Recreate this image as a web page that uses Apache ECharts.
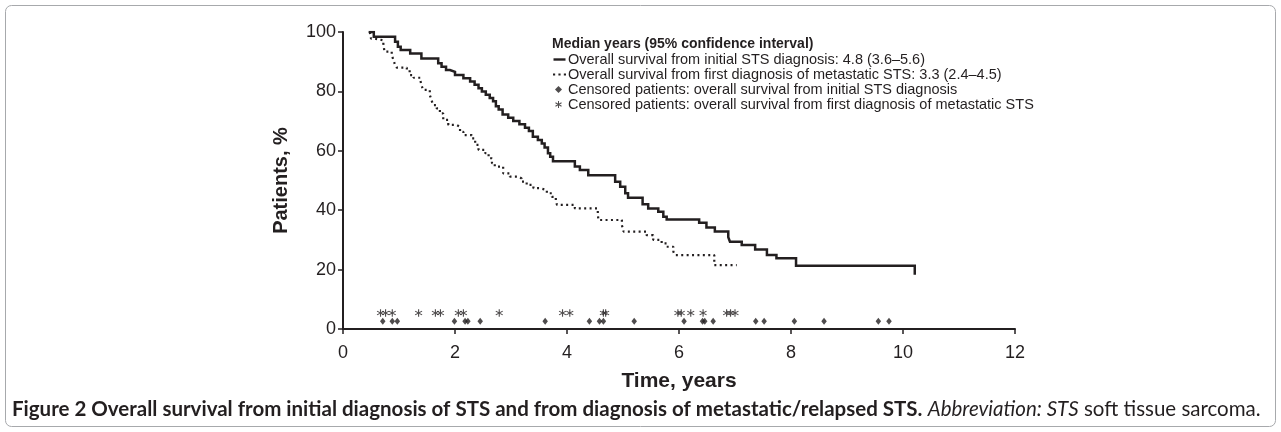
<!DOCTYPE html>
<html><head><meta charset="utf-8">
<script src="https://cdn.jsdelivr.net/npm/echarts@6/dist/echarts.min.js"></script>
<style>html,body{margin:0;padding:0;background:#fff}#c{width:1281px;height:432px}</style>
</head><body><div id="c"></div>
<script>
// ---- data ----
const xTickLabels = ['0', '2', '4', '6', '8', '10', '12'];
const yTickLabels = ['0', '20', '40', '60', '80', '100'];
const legendTitle = 'Median years (95% confidence interval)';
const seriesNames = [
  'Overall survival from initial STS diagnosis: 4.8 (3.6\u20135.6)',
  'Overall survival from first diagnosis of metastatic STS: 3.3 (2.4\u20134.5)',
  'Censored patients: overall survival from initial STS diagnosis',
  'Censored patients: overall survival from first diagnosis of metastatic STS'
];
// [time (years), survival (%)] -- survival drops to value at that time
const osInitial = [
  [0.48, 100], [0.55, 98.4], [0.93, 96.7], [0.98, 95.0], [1.03, 93.9], [1.20, 92.8],
  [1.40, 91.1], [1.70, 89.5], [1.76, 88.3], [1.84, 87.2], [1.91, 86.6], [2.00, 85.5],
  [2.15, 84.4], [2.27, 83.3], [2.35, 82.2], [2.42, 81.1], [2.48, 80.0], [2.55, 78.9],
  [2.62, 77.8], [2.68, 76.7], [2.73, 75.0], [2.78, 73.9], [2.85, 72.2], [2.95, 71.1],
  [3.04, 70.0], [3.15, 68.9], [3.25, 67.8], [3.32, 66.7], [3.39, 64.7], [3.48, 63.6],
  [3.55, 62.5], [3.60, 61.1], [3.66, 59.2], [3.70, 58.0], [3.75, 56.5], [4.14, 54.7],
  [4.23, 53.5], [4.38, 51.8], [4.86, 49.6], [4.95, 47.9], [5.04, 45.7], [5.09, 44.2],
  [5.35, 42.0], [5.45, 40.6], [5.63, 39.5], [5.72, 37.8], [5.78, 36.9], [6.36, 35.8],
  [6.49, 34.2], [6.64, 32.8], [6.88, 30.9], [6.91, 29.4], [7.12, 28.3], [7.36, 26.8],
  [7.57, 24.9], [7.74, 23.8], [8.09, 21.3], [10.21, 21.3], [10.21, 18.7]
];
const osMetastatic = [
  [0.48, 100], [0.50, 97.8], [0.55, 97.2], [0.72, 96.2], [0.74, 93.4], [0.87, 92.3],
  [0.90, 90.6], [0.93, 88.9], [0.96, 88.0], [1.14, 87.2], [1.19, 85.5], [1.26, 84.6],
  [1.38, 83.8], [1.40, 82.2], [1.43, 80.5], [1.55, 78.8], [1.58, 77.1], [1.61, 75.4],
  [1.67, 74.3], [1.73, 72.6], [1.79, 70.4], [1.88, 68.7], [2.03, 68.1], [2.09, 66.4],
  [2.15, 65.3], [2.30, 64.2], [2.36, 62.0], [2.42, 60.3], [2.54, 59.2], [2.60, 57.5],
  [2.66, 55.8], [2.71, 54.7], [2.86, 52.4], [2.98, 51.3], [3.13, 50.7], [3.19, 49.6],
  [3.28, 48.5], [3.40, 47.4], [3.52, 46.8], [3.64, 45.7], [3.73, 44.5], [3.80, 43.4],
  [3.82, 41.8], [4.14, 40.6], [4.55, 39.0], [4.56, 36.7], [4.98, 35.0], [5.01, 32.8],
  [5.42, 31.6], [5.54, 30.0], [5.69, 28.8], [5.78, 27.7], [5.90, 26.0], [5.93, 24.9],
  [6.63, 21.5], [7.03, 21.5]
];
const censoredInitialTimes = [0.71, 0.88, 0.97, 1.99, 2.18, 2.23, 2.45, 3.61, 4.40, 4.58, 4.65,
  5.20, 6.09, 6.42, 6.46, 6.61, 7.37, 7.52, 8.06, 8.59, 9.56, 9.75];
const censoredMetastaticTimes = [0.67, 0.76, 0.88, 1.35, 1.65, 1.74, 2.06, 2.15, 2.79, 3.92, 4.05,
  4.65, 4.69, 5.98, 6.04, 6.21, 6.43, 6.85, 6.92, 7.00];
const censoredInitialLevel = 2.6;
const censoredMetastaticLevel = 5.4;
const caption = {
  bold: 'Figure 2 Overall survival from initial diagnosis of STS and from diagnosis of metastatic/relapsed STS.',
  italic: 'Abbreviation: STS',
  normal: ' soft tissue sarcoma.'
};

// ---- chart ----
const INK = '#231f20';
const FONT = 'Liberation Sans';
const CAP = 'Lato';
const CAPSIZE = 20.5;
const asterisk = 'path://M-0.7,-5L0.7,-5L0.7,5L-0.7,5Z M-4.68,-1.894L-3.98,-3.106L4.68,1.894L3.98,3.106Z M3.98,-3.106L4.68,-1.894L-3.98,3.106L-4.68,1.894Z';
const num = a => a.map(Number);
const xT = num(xTickLabels), yT = num(yTickLabels);

const chart = echarts.init(document.getElementById('c'), null, {renderer: 'canvas'});
chart.setOption({
  animation: false,
  backgroundColor: '#fff',
  textStyle: {fontFamily: FONT, color: INK},
  title: {
    text: legendTitle, left: 552, top: 37.5, padding: 0,
    textStyle: {fontFamily: FONT, fontSize: 14, fontWeight: 'bold', color: INK}
  },
  legend: [{
    data: [
      {name: seriesNames[0], icon: 'path://M0,0h13v2.6h-13z'},
      {name: seriesNames[1], icon: 'path://M0,0h2v2h-2z M5,0h2v2h-2z M10,0h2v2h-2z'}
    ],
    orient: 'vertical', left: 553, top: 52, padding: 0, itemGap: 0,
    itemWidth: 13, itemHeight: 2.4, selectedMode: false,
    textStyle: {fontFamily: FONT, fontSize: 14.5, color: INK, lineHeight: 15, padding: [0, 0, 0, -3]}
  }, {
    data: [
      {name: seriesNames[2], icon: 'diamond'},
      {name: seriesNames[3], icon: asterisk}
    ],
    orient: 'vertical', left: 555, top: 82, padding: 0, itemGap: 0,
    itemWidth: 7, itemHeight: 7, selectedMode: false,
    textStyle: {fontFamily: FONT, fontSize: 14.5, color: INK, lineHeight: 15, padding: [0, 0, 0, 1]}
  }],
  grid: {left: 343, right: 266, top: 32, bottom: 103, containLabel: false, outerBoundsMode: 'none'},
  xAxis: {
    type: 'value', min: xT[0], max: xT[xT.length - 1], interval: xT[1] - xT[0],
    name: 'Time, years', nameLocation: 'middle', nameGap: 42,
    nameTextStyle: {fontFamily: FONT, fontSize: 21, fontWeight: 'bold', color: INK},
    axisLine: {show: true, onZero: false, lineStyle: {color: INK, width: 2}},
    axisTick: {show: true, inside: false, length: 5, lineStyle: {color: INK, width: 1.5}},
    axisLabel: {fontFamily: FONT, fontSize: 18, color: INK, margin: 15},
    splitLine: {show: false}
  },
  yAxis: {
    type: 'value', min: yT[0], max: yT[yT.length - 1], interval: yT[1] - yT[0],
    name: 'Patients, %', nameLocation: 'middle', nameGap: 52, nameRotate: 90,
    nameTextStyle: {fontFamily: FONT, fontSize: 20, fontWeight: 'bold', color: INK},
    axisLine: {show: true, onZero: false, lineStyle: {color: INK, width: 2}},
    axisTick: {show: true, inside: false, length: 5, lineStyle: {color: INK, width: 1.5}},
    axisLabel: {fontFamily: FONT, fontSize: 18, color: INK, margin: 7},
    splitLine: {show: false}
  },
  series: [{
    name: seriesNames[0], type: 'line', step: 'end', data: osInitial,
    showSymbol: false, symbol: 'none', color: INK,
    lineStyle: {color: INK, width: 2.5, cap: 'square', join: 'miter'}
  }, {
    name: seriesNames[1], type: 'line', step: 'end', data: osMetastatic,
    showSymbol: false, symbol: 'none', color: INK,
    lineStyle: {color: INK, width: 2.2, type: [2, 3.4]}
  }, {
    name: seriesNames[2], type: 'scatter', symbol: 'diamond', symbolSize: [5.5, 7],
    data: censoredInitialTimes.map(t => [t, censoredInitialLevel]),
    itemStyle: {color: INK}, color: INK
  }, {
    name: seriesNames[3], type: 'scatter', symbol: asterisk, symbolSize: 7.5,
    data: censoredMetastaticTimes.map(t => [t, censoredMetastaticLevel]),
    itemStyle: {color: INK}, color: INK
  }],
  graphic: [{
    type: 'rect', silent: true,
    shape: {x: 5.5, y: 5.5, width: 1270, height: 421, r: 6},
    style: {fill: 'none', stroke: '#a7a9ac', lineWidth: 1}
  }, {
    type: 'text', left: 12, top: 399, silent: true,
    style: {
      text: '{b|' + caption.bold + '} {i|' + caption.italic + '}{n|' + caption.normal + '}',
      rich: {
        b: {fontFamily: CAP, fontSize: CAPSIZE, fontWeight: 'bold', fill: INK},
        i: {fontFamily: CAP, fontSize: CAPSIZE, fontStyle: 'italic', fill: INK},
        n: {fontFamily: CAP, fontSize: CAPSIZE, fill: INK}
      },
      font: CAPSIZE + 'px ' + CAP
    }
  }]
});
</script></body></html>
